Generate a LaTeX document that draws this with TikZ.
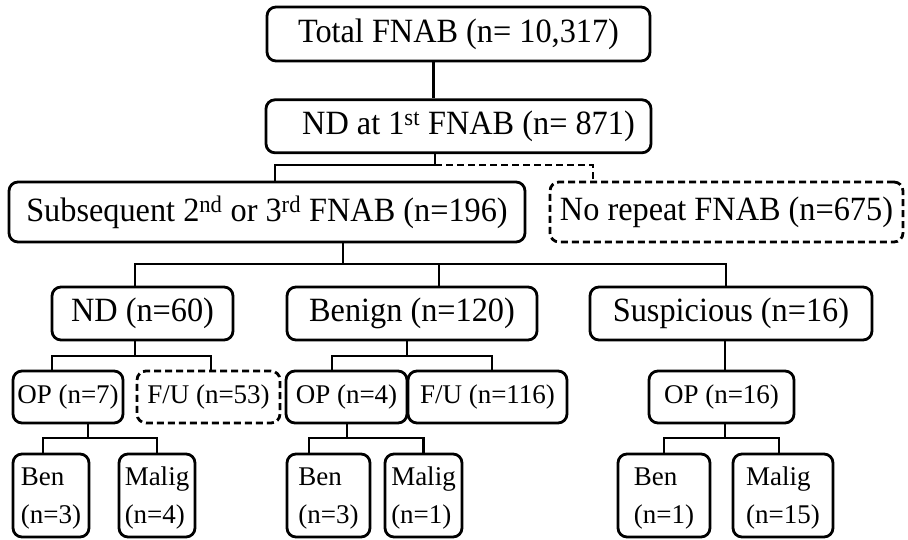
\documentclass[tikz,border=0pt]{standalone}
\usepackage{fontspec}
\setmainfont{Liberation Serif}
\newfontfamily\condfont{Liberation Serif}[FakeStretch=0.95]
\usepackage{xcolor}
\usepackage{tikz}
\usetikzlibrary{positioning, calc}
\tikzset{
  mainbox/.style={draw=black, line width=2.8pt, rounded corners=9pt,
    inner sep=1pt, align=center, font=\condfont\fontsize{34}{40}\selectfont},
  smallbox/.style={draw=black, line width=2.8pt, rounded corners=9pt,
    inner sep=1pt, minimum height=52pt, align=center,
    font=\fontsize{27}{40}\selectfont},
  leafbox/.style={draw=black, line width=2.8pt, rounded corners=9pt,
    inner sep=1pt, minimum height=83pt, align=left, text depth=0pt,
    font=\fontsize{27}{38}\selectfont},
  dashbox/.style={dash pattern=on 7pt off 4pt},
  link/.style={draw=black, line width=2.8pt},
  dashlink/.style={link, dash pattern=on 7pt off 4pt}
}

\begin{document}
\begin{tikzpicture}[x=1pt, y=-1pt]

  \useasboundingbox (0,0) rectangle (908,539);

  \node[mainbox, minimum width=383pt, minimum height=54pt] (total) at (458.5,34)
    {Total FNAB (n= 10,317)};

  \node[mainbox, minimum width=385pt, minimum height=53pt, below=36pt of total] (nd1)
    {\hspace*{20pt}ND at 1\textsuperscript{st} FNAB (n= 871)};

  \node[mainbox, minimum width=516pt, minimum height=60pt] (sub) at (267,212)
    {Subsequent 2\textsuperscript{nd} or 3\textsuperscript{rd} FNAB (n=196)};
  \node[mainbox, dashbox, minimum width=353pt, minimum height=60pt] (norep) at (726.5,212)
    {No repeat FNAB (n=675)};

  \node[mainbox, minimum width=181pt, minimum height=53pt] (nd60) at (142.5,313.5)
    {ND (n=60)};
  \node[mainbox, minimum width=250pt, minimum height=53pt] (benign) at (412,313.5)
    {Benign (n=120)};
  \node[mainbox, minimum width=282pt, minimum height=53pt] (susp) at (731,313.5)
    {Suspicious (n=16)};

  \node[smallbox, minimum width=110pt] (op7) at (68,397) {OP (n=7)};
  \node[smallbox, dashbox, minimum width=143pt] (fu53) at (208.5,397) {F/U (n=53)};
  \node[smallbox, minimum width=121pt] (op4) at (346.5,397) {OP (n=4)};
  \node[smallbox, minimum width=159pt] (fu116) at (487.5,397) {F/U (n=116)};
  \node[smallbox, minimum width=145pt] (op16) at (721.5,397) {OP (n=16)};

  \node[leafbox, minimum width=76pt] (ben1) at (51,495.5) {Ben\\(n=3)};
  \node[leafbox, minimum width=76pt] (mal1) at (157,495.5) {Malig\\(n=4)};
  \node[leafbox, minimum width=83pt] (ben2) at (328.5,495.5) {Ben\\(n=3)};
  \node[leafbox, minimum width=77pt] (mal2) at (423.5,495.5) {Malig\\(n=1)};
  \node[leafbox, minimum width=92pt] (ben3) at (664,495.5) {Ben\\(n=1)};
  \node[leafbox, minimum width=100pt] (mal3) at (783,495.5) {Malig\\(n=15)};

  % connectors
  \coordinate (tn) at ([xshift=-25pt]total.south);
  \draw[link] (tn) -- (tn |- nd1.north);

  \coordinate (j1) at (435,165);
  \draw[link] (nd1.south -| j1) -- (j1) -| ([xshift=8pt]sub.north);
  \draw[dashlink] (j1) -| ([xshift=-133.5pt]norep.north);

  \coordinate (j2) at (343,264);
  \draw[link] (sub.south -| j2) -- (j2);
  \draw[link] ([xshift=-7.5pt]nd60.north) |- (j2) -| ([xshift=-5pt]susp.north);
  \coordinate (bn) at ([xshift=27pt]benign.north);
  \draw[link] (bn) -- (bn |- j2);

  \coordinate (j3) at (135,356);
  \draw[link] (nd60.south -| j3) -- (j3);
  \draw[link] ([xshift=-16pt]op7.north) |- (j3) -| ([xshift=2.5pt]fu53.north);

  \coordinate (j4) at (407,356);
  \draw[link] (benign.south -| j4) -- (j4);
  \draw[link] ([xshift=-14.5pt]op4.north) |- (j4) -| ([xshift=4.5pt]fu116.north);

  \coordinate (sp) at ([xshift=-6pt]susp.south);
  \draw[link] (sp) -- (sp |- op16.north);

  \coordinate (j5) at (88,438);
  \draw[link] (op7.south -| j5) -- (j5);
  \draw[link] ([xshift=-8pt]ben1.north) |- (j5) -| (mal1.north);

  \coordinate (j6) at (347,438);
  \draw[link] (op4.south -| j6) -- (j6);
  \draw[link] ([xshift=-19.5pt]ben2.north) |- (j6) -| (mal2.north);

  \coordinate (j7) at (725,438);
  \draw[link] (op16.south -| j7) -- (j7);
  \draw[link] (ben3.north) |- (j7) -| ([xshift=-4pt]mal3.north);

\end{tikzpicture}
\end{document}
